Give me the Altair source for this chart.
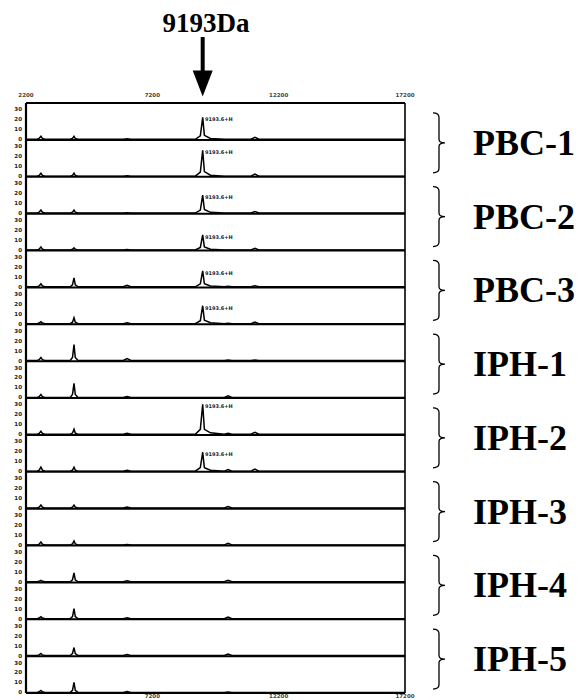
import altair as alt
import pandas as pd

# ---------------- data ----------------
MASS = [2200, 2640, 2720, 2790, 2850, 2950, 3950, 4040, 4100, 4150, 4260,
        6050, 6200, 6350, 8900, 9100, 9193, 9260, 9500, 10050, 10200, 10350,
        11100, 11260, 11420, 17200]

INTENSITY = [
    [0, 0, 0.8, 3, 0.8, 0, 0, 0.8, 3, 0.8, 0, 0, 0.5, 0, 0, 3.5, 22, 4, 0.8, 0, 0, 0, 0, 2, 0, 0],
    [0, 0, 0.8, 3, 0.8, 0, 0, 0.8, 3, 0.8, 0, 0, 0.5, 0, 0, 4, 26, 4.5, 1, 0, 0, 0, 0, 2, 0, 0],
    [0, 0, 0.8, 3, 0.8, 0, 0, 0.8, 3, 0.8, 0, 0, 0.3, 0, 0, 3, 18, 3.5, 0.7, 0, 0, 0, 0, 1.5, 0, 0],
    [0, 0, 0.8, 3, 0.8, 0, 0, 0.6, 2, 0.6, 0, 0, 0.3, 0, 0, 2.5, 15, 3, 0.6, 0, 0, 0, 0, 1.5, 0, 0],
    [0, 0, 0.8, 3, 0.8, 0, 0, 2, 9, 2, 0, 0, 1.5, 0, 0, 3, 16, 3, 0.8, 0, 0.5, 0, 0, 1, 0, 0],
    [0, 0, 0.6, 2, 0.6, 0, 0, 1.5, 6, 1.5, 0, 0, 1, 0, 0, 3, 18, 3.5, 1, 0, 0.5, 0, 0, 1.5, 0, 0],
    [0, 0, 0.8, 3, 0.8, 0, 0, 3, 16, 3, 0, 0, 2, 0, 0, 0, 0, 0, 0, 0, 0.5, 0, 0, 0.5, 0, 0],
    [0, 0, 0.8, 3, 0.8, 0, 0, 3, 14, 3, 0, 0, 1, 0, 0, 0, 0, 0, 0, 0, 1.5, 0, 0, 0, 0, 0],
    [0, 0, 0.8, 3, 0.8, 0, 0, 1.2, 5, 1.2, 0, 0, 1, 0, 0, 5, 30, 5, 1.5, 0, 1, 0, 0, 2, 0, 0],
    [0, 0, 1, 4, 1, 0, 0, 1, 4, 1, 0, 0, 1, 0, 0, 3.5, 19, 3.5, 1, 0, 1.5, 0, 0, 2, 0, 0],
    [0, 0, 0.8, 3, 0.8, 0, 0, 0.8, 3, 0.8, 0, 0, 1, 0, 0, 0, 0, 0, 0, 0, 1.5, 0, 0, 0, 0, 0],
    [0, 0, 0.8, 3, 0.8, 0, 0, 1, 4, 1, 0, 0, 0.5, 0, 0, 0, 0, 0, 0, 0, 1.5, 0, 0, 0, 0, 0],
    [0, 0, 0.5, 1.5, 0.5, 0, 0, 2, 9, 2, 0, 0, 1, 0, 0, 0, 0, 0, 0, 0, 1.5, 0, 0, 0, 0, 0],
    [0, 0, 0.6, 2, 0.6, 0, 0, 2, 10, 2, 0, 0, 1, 0, 0, 0, 0, 0, 0, 0, 1.5, 0, 0, 0, 0, 0],
    [0, 0, 0.6, 2, 0.6, 0, 0, 2, 8, 2, 0, 0, 1, 0, 0, 0, 0, 0, 0, 0, 1.5, 0, 0, 0, 0, 0],
    [0, 0, 0.6, 2, 0.6, 0, 0, 2, 10, 2, 0, 0, 1, 0, 0, 0, 0, 0, 0, 0, 0.5, 0, 0, 0, 0, 0],
]

GROUPS = ["PBC-1", "PBC-2", "PBC-3", "IPH-1", "IPH-2", "IPH-3", "IPH-4", "IPH-5"]
Y_TICKS = [0, 10, 20, 30]
X_TICKS_TOP = [2200, 7200, 12200, 17200]
X_TICKS_BOTTOM = [7200, 12200, 17200]
PEAK_MASS = 9193
PEAK_LABEL = "9193.6+H"
PEAK_PANELS = [0, 1, 2, 3, 4, 5, 8, 9]
TITLE = "9193Da"

# ---------------- helpers ----------------
N = len(INTENSITY)
SPAN = 37
X_MIN, X_MAX = MASS[0], MASS[-1]

rows = []
for p, vals in enumerate(INTENSITY):
    for m, v in zip(MASS, vals):
        rows.append({"panel": p, "mass": m, "intensity": v})
trace_df = pd.DataFrame(rows)

x_scale = alt.Scale(domain=[X_MIN, X_MAX], range=[18, 397], nice=False, zero=False)
y_scale = alt.Scale(domain=[0, N * SPAN], range=[685, 95], nice=False, zero=False)

X = lambda f: alt.X(f, type="quantitative", scale=x_scale, axis=None)
Y = lambda f: alt.Y(f, type="quantitative", scale=y_scale, axis=None)

trace = alt.Chart(trace_df).transform_calculate(
    ypos=f"({N - 1} - datum.panel) * {SPAN} + 0.6 + datum.intensity"
).mark_line(color="black", strokeWidth=1.5).encode(
    x=X("mass"), y=Y("ypos"), detail="panel:N"
)

bound_df = pd.DataFrame({"k": list(range(N + 1)), "x0": X_MIN, "x1": X_MAX})
hrules = alt.Chart(bound_df).transform_calculate(
    yy=f"datum.k * {SPAN}"
).mark_rule(color="black", strokeWidth=2).encode(
    x=X("x0"), x2="x1", y=Y("yy")
)

frame_df = pd.DataFrame({"mx": [X_MIN, X_MAX], "y0": [0, 0], "y1": [N * SPAN, N * SPAN],
                         "w": [2.2, 1.6]})
vrules = alt.Chart(frame_df).mark_rule(color="black").encode(
    x=X("mx"), y=Y("y0"), y2="y1",
    strokeWidth=alt.StrokeWidth("w:Q", scale=None, legend=None)
)

ytick_df = pd.DataFrame([{"panel": p, "v": v} for p in range(N) for v in Y_TICKS])
ylabels = alt.Chart(ytick_df).transform_calculate(
    yy=f"({N - 1} - datum.panel) * {SPAN} + 0.6 + datum.v",
    lab="datum.v"
).mark_text(fontSize=5.5, font="DejaVu Sans", fontWeight="bold", align="right",
            baseline="middle", color="#222").encode(
    x=alt.value(14), y=Y("yy"), text="lab:N"
)

xtop = alt.Chart(pd.DataFrame({"m": X_TICKS_TOP})).mark_text(
    fontSize=5.5, font="DejaVu Sans", fontWeight="bold", color="#444", baseline="middle"
).encode(x=X("m"), y=alt.value(87), text="m:N")

xbot = alt.Chart(pd.DataFrame({"m": X_TICKS_BOTTOM})).mark_text(
    fontSize=5.5, font="DejaVu Sans", fontWeight="bold", color="#444", baseline="middle"
).encode(x=X("m"), y=alt.value(687.5), text="m:N")

peak_df = pd.DataFrame({"panel": PEAK_PANELS,
                        "h": [INTENSITY[p][MASS.index(PEAK_MASS)] for p in PEAK_PANELS],
                        "m": PEAK_MASS + 90, "lab": PEAK_LABEL})
peak_labels = alt.Chart(peak_df).transform_calculate(
    yy=f"({N - 1} - datum.panel) * {SPAN} + 0.6 + datum.h - 2"
).mark_text(fontSize=5, font="DejaVu Sans", fontWeight="bold", align="left",
            baseline="middle", color="#222").encode(x=X("m"), y=Y("yy"), text="lab:N")

title_df = pd.DataFrame({"t": [TITLE], "m": [PEAK_MASS]})
title = alt.Chart(title_df).mark_text(
    font="Liberation Serif", fontWeight="bold", fontSize=27, align="center",
    baseline="alphabetic", color="black"
).encode(x=alt.value(198), y=alt.value(24), text="t:N")

shaft = alt.Chart(title_df).mark_rule(color="black", strokeWidth=4).encode(
    x=X("m"), y=alt.value(29), y2=alt.value(64)
)
head = alt.Chart(title_df).mark_point(
    shape="M-0.77,-1L0.77,-1L0,1Z", size=676, filled=True, color="black",
    opacity=1, strokeWidth=0
).encode(x=X("m"), y=alt.value(75.5))

group_df = pd.DataFrame({"g": list(range(len(GROUPS))), "name": GROUPS})
BRACE = "M-0.2,-1Q0,-1 0,-0.85L0,-0.12Q0,0 0.2,0Q0,0 0,0.12L0,0.85Q0,1 -0.2,1"
braces = alt.Chart(group_df).transform_calculate(
    yy=f"({N - 1} - 2 * datum.g) * {SPAN} - 3"
).mark_point(shape=BRACE, size=3600, filled=False, stroke="black",
             strokeWidth=1.3, opacity=1).encode(
    x=alt.value(431), y=Y("yy")
)
glabels = alt.Chart(group_df).transform_calculate(
    yy=f"({N - 1} - 2 * datum.g) * {SPAN} - 4"
).mark_text(font="Liberation Serif", fontWeight="bold", fontSize=36, align="left",
            baseline="middle", color="black").encode(
    x=alt.value(465), y=Y("yy"), text="name:N"
)

chart = alt.layer(
    hrules, vrules, trace, ylabels, xtop, xbot, peak_labels,
    title, shaft, head, braces, glabels
).properties(
    width=571, height=692, padding=0, background="white",
    autosize=alt.AutoSizeParams(type="none")
).configure_view(strokeWidth=0)

chart.save("out.html", embed_options={"renderer": "svg", "actions": False})
